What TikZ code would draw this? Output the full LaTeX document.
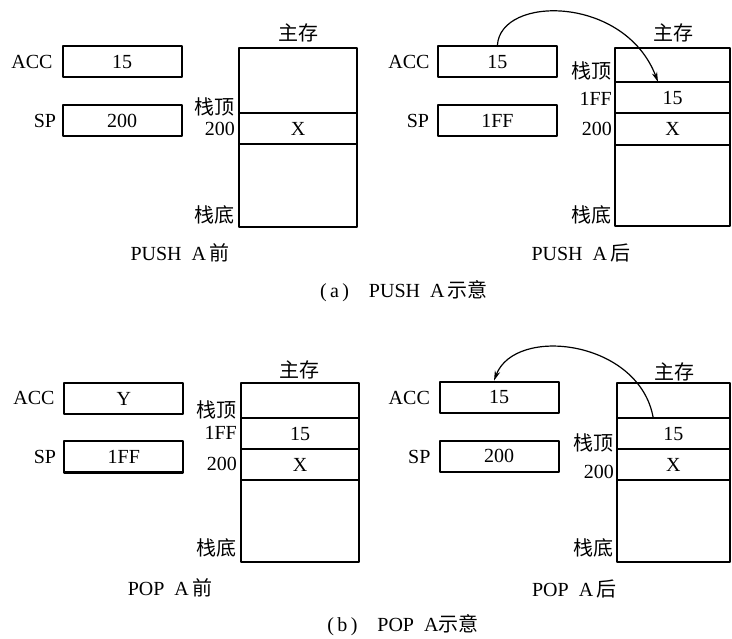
\documentclass[tikz,border=0pt]{standalone}
\usepackage{fontspec}
\setmainfont{Liberation Serif}
\newfontfamily\cjk{Noto Sans CJK SC}[Scale=1.0]
\usetikzlibrary{arrows.meta}

\tikzset{
  reg/.style={draw, line width=2pt, inner sep=0pt, minimum width=119pt, minimum height=31pt, font=\fontsize{20}{23}\selectfont},
  cell/.style={draw, line width=2pt, inner sep=0pt, outer sep=0pt, font=\fontsize{20}{23}\selectfont},
  txt/.style={inner sep=0pt, font=\fontsize{20}{23}\selectfont},
  side/.style={txt, anchor=east},
  move/.style={line width=1.2pt, -{Stealth[length=10pt,width=5.5pt]}},
}

\begin{document}
\begin{tikzpicture}[x=1pt, y=-1pt, line cap=round, line join=round]

  %% ════ (a) PUSH A 前 ════
  \node[txt] (acc1l) at (32,62) {ACC};
  \node[reg] (acc1) at (122,62) {15};
  \node[txt] (sp1l) at (45,121) {SP};
  \node[reg] (sp1) at (122,121) {200};
  \node[cell, minimum width=118pt, minimum height=65pt] (m1top) at (298,80.2) {};
  \node[cell, minimum width=118pt, minimum height=31.6pt] (m1x) at (298,128.5) {X};
  \node[cell, minimum width=118pt, minimum height=82.4pt] (m1bot) at (298,185.5) {};
  \node[txt] (m1name) at (298,33) {\cjk 主存};
  \node[side] (m1topl) at (235,107) {\cjk 栈顶};
  \node[side] (m1xl) at (235,129) {200};
  \node[side] (m1botl) at (235,215) {\cjk 栈底};
  \node[txt] (cap1) at (180,253) {PUSH\enspace A\,{\cjk 前}};

  %% ════ (a) PUSH A 后 ════
  \node[txt] (acc2l) at (409,62) {ACC};
  \node[reg] (acc2) at (497.4,62) {15};
  \node[txt] (sp2l) at (418,121) {SP};
  \node[reg] (sp2) at (497.4,121) {1FF};
  \node[cell, minimum width=115pt, minimum height=33.5pt] (m2top) at (672.5,65.25) {};
  \node[cell, minimum width=115pt, minimum height=31.3pt] (m2p) at (672.5,97.65) {15};
  \node[cell, minimum width=115pt, minimum height=31.4pt] (m2x) at (672.5,129) {X};
  \node[cell, minimum width=115pt, minimum height=81.3pt] (m2bot) at (672.5,185.35) {};
  \node[txt] (m2name) at (673,33) {\cjk 主存};
  \node[side] (m2topl) at (612,70.7) {\cjk 栈顶};
  \node[side] (m2pl) at (612,99.3) {1FF};
  \node[side] (m2xl) at (612,129.3) {200};
  \node[side] (m2botl) at (612,215) {\cjk 栈底};
  \node[txt] (cap2) at (581,253) {PUSH\enspace A\,{\cjk 后}};

  \draw[move] (acc2.north) .. controls (500,-5) and (625,-5) .. ([xshift=-14.5pt]m2p.north);

  \node[txt] (capa) at (404,291) {(\,a\,)\quad PUSH\enspace A\,{\cjk 示意}};

  %% ════ (b) POP A 前 ════
  \node[txt] (acc3l) at (34,398) {ACC};
  \node[reg] (acc3) at (123.8,398.6) {Y};
  \node[txt] (sp3l) at (45,457) {SP};
  \node[reg] (sp3) at (123.8,457) {1FF};
  \node[cell, minimum width=118pt, minimum height=35pt] (m3top) at (300,400.8) {};
  \node[cell, minimum width=118pt, minimum height=31pt] (m3p) at (300,433.8) {15};
  \node[cell, minimum width=118pt, minimum height=30.7pt] (m3x) at (300,464.65) {X};
  \node[cell, minimum width=118pt, minimum height=82.3pt] (m3bot) at (300,521.15) {};
  \node[txt] (m3name) at (299,370) {\cjk 主存};
  \node[side] (m3topl) at (237,410) {\cjk 栈顶};
  \node[side] (m3pl) at (237,433.3) {1FF};
  \node[side] (m3xl) at (237,464) {200};
  \node[side] (m3botl) at (237,548) {\cjk 栈底};
  \node[txt] (cap3) at (170,588) {POP\enspace A\,{\cjk 前}};

  %% ════ (b) POP A 后 ════
  \node[txt] (acc4l) at (409.3,398) {ACC};
  \node[reg] (acc4) at (499,397.2) {15};
  \node[txt] (sp4l) at (419.3,456.7) {SP};
  \node[reg] (sp4) at (499,456.2) {200};
  \node[cell, minimum width=113.3pt, minimum height=35pt] (m4top) at (673.3,400.8) {};
  \node[cell, minimum width=113.3pt, minimum height=30.7pt] (m4p) at (673.3,433.65) {15};
  \node[cell, minimum width=113.3pt, minimum height=31pt] (m4x) at (673.3,464.5) {X};
  \node[cell, minimum width=113.3pt, minimum height=81.7pt] (m4bot) at (673.3,520.85) {};
  \node[txt] (m4name) at (674.3,371.7) {\cjk 主存};
  \node[side] (m4topl) at (614,443.3) {\cjk 栈顶};
  \node[side] (m4xl) at (614,471.7) {200};
  \node[side] (m4botl) at (614,548.3) {\cjk 栈底};
  \node[txt] (cap4) at (574.3,589.3) {POP\enspace A\,{\cjk 后}};

  \draw[move] ([xshift=-20pt]m4p.north) .. controls (640,340) and (515,325) .. ([xshift=-5pt]acc4.north);

  \node[txt] (capb) at (403,625) {(\,b\,)\quad POP\enspace A{\cjk 示意}};

  % 画布固定为参考图尺寸
  \pgfresetboundingbox
  \path[use as bounding box] (0,0) rectangle (732,639);
\end{tikzpicture}
\end{document}
